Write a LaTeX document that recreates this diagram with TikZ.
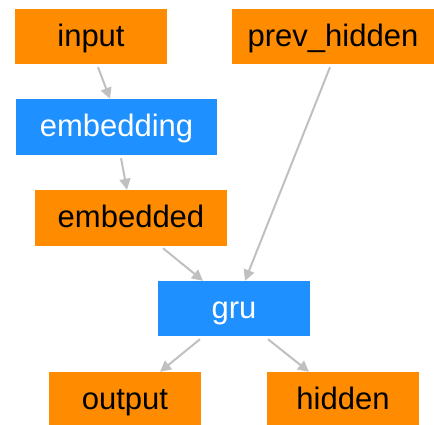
\documentclass[tikz,border=0pt]{standalone}
\usepackage{fontspec}
\setmainfont{Liberation Sans}
\usetikzlibrary{arrows.meta}
\definecolor{boxorange}{HTML}{FF8C00}
\definecolor{boxblue}{HTML}{1E90FF}
\definecolor{edgegray}{HTML}{C0C0C0}
\begin{document}
\begin{tikzpicture}[x=1pt, y=-1pt, line join=round,
		font=\fontsize{31}{36}\selectfont,
		tensor/.style={fill=boxorange, text=black, inner sep=0pt, text height=22pt, text depth=3pt, minimum height=55pt},
		layer/.style={fill=boxblue, text=white, inner sep=0pt, text height=22pt, text depth=3pt, minimum height=56pt},
		edge/.style={draw=edgegray, line width=2pt, -{Triangle[length=11pt,width=11pt]}}]
			\useasboundingbox (0,0) rectangle (434,424);
			% Các khối
			\node[tensor, minimum width=152pt] (input) at (91,36.5) {input};
			\node[tensor, minimum width=202pt] (prevhidden) at (333,36.5) {prev\_hidden};
			\node[layer, minimum width=201pt] (embedding) at (116.5,127) {embedding};
			\node[tensor, minimum width=192pt, minimum height=56pt] (embedded) at (131,218) {embedded};
			\node[layer, minimum width=152pt, minimum height=55pt] (gru) at (234,308.5) {gru};
			\node[tensor, minimum width=152pt, minimum height=56pt] (output) at (125,400) {output};
			\node[tensor, minimum width=152pt, minimum height=56pt] (hidden) at (343,400) {hidden};
			% Mũi tên
			\draw[edge] ([shift={(7pt,-3pt)}]input.south) -- ([xshift=-6.5pt]embedding.north);
			\draw[edge] ([shift={(4.5pt,-3pt)}]embedding.south) -- ([xshift=-4pt]embedded.north);
			\draw[edge] ([shift={(-3pt,-3pt)}]prevhidden.south) -- ([xshift=11pt]gru.north);
			\draw[edge] ([shift={(32pt,-2pt)}]embedded.south) -- ([xshift=-31pt]gru.north);
			\draw[edge] ([shift={(-34pt,-3pt)}]gru.south) -- ([xshift=35pt]output.north);
			\draw[edge] ([shift={(34pt,-3pt)}]gru.south) -- ([xshift=-34pt]hidden.north);
		\end{tikzpicture}
\end{document}
